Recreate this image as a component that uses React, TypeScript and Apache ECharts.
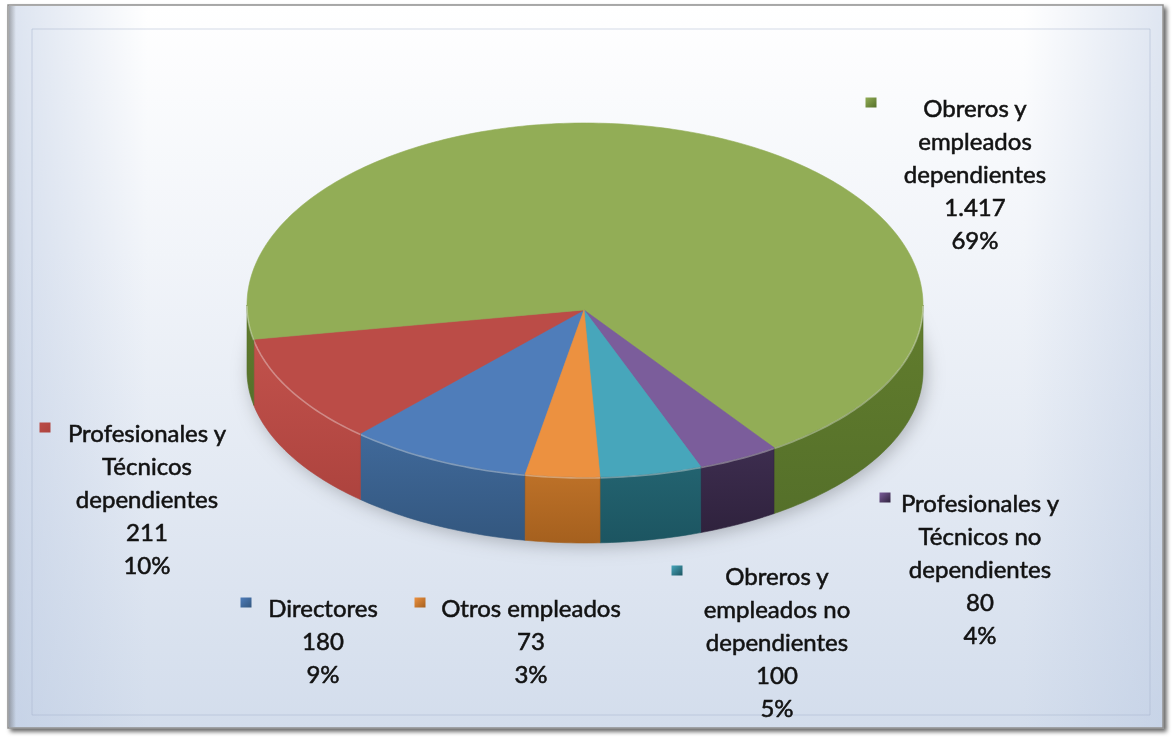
import React, { useEffect, useRef } from "react";
import * as echarts from "echarts";

// ---- data (clockwise order, as in the source workbook) ----
const names = [
  "Directores",
  "Profesionales y Técnicos dependientes",
  "Obreros y empleados dependientes",
  "Profesionales y Técnicos no dependientes",
  "Obreros y empleados no dependientes",
  "Otros empleados",
];
const nameLines = [
  ["Directores"],
  ["Profesionales y", "Técnicos", "dependientes"],
  ["Obreros y", "empleados", "dependientes"],
  ["Profesionales y", "Técnicos no", "dependientes"],
  ["Obreros y", "empleados no", "dependientes"],
  ["Otros empleados"],
];
const values = [180, 211, 1417, 80, 100, 73];
const percentLabels = ["9%", "10%", "69%", "4%", "5%", "3%"];

// ---- styling ----
const topColors = ["#4f7dba", "#bb4c47", "#92ad56", "#7b5d9b", "#47a6bb", "#ec9140"];
const sideTop = ["#40699a", "#c2524c", "#627d2d", "#3d2d4f", "#236370", "#bd7128"];
const sideBottom = ["#33577f", "#ad433e", "#55702a", "#2f223d", "#1c5561", "#a5601e"];

// label layout: [center x, first line center y, legend key center x]
const labelLayout = [
  [323, 607, 246],
  [147, 432, 45],
  [975, 107, 871],
  [980, 502, 885],
  [777, 575, 677],
  [531, 607, 420],
];

const CX = 585;
const CY = 305;
const RX = 338;
const RY_T = 182;
const RY_B = 172;
const HUB: [number, number] = [584, 310];
const DEPTH = 66;
const START = 190.2;
const FONT = "Lato, 'Open Sans', sans-serif";

function fmt(v: number) {
  return String(v).replace(/\B(?=(\d{3})+(?!\d))/g, ".");
}

function pt(deg: number, dy = 0): number[] {
  const r = (deg * Math.PI) / 180;
  const s = Math.sin(r);
  const c = Math.cos(r);
  return [CX + RX * s, CY - (c > 0 ? RY_T : RY_B) * c + dy];
}
function arc(a: number, b: number, dy = 0): number[][] {
  const n = Math.max(2, Math.ceil(Math.abs(b - a)));
  const out: number[][] = [];
  for (let i = 0; i <= n; i++) out.push(pt(a + ((b - a) * i) / n, dy));
  return out;
}

export default function App() {
  const ref = useRef<HTMLDivElement>(null);
  useEffect(() => {
    if (!ref.current) return;
    const chart = echarts.init(ref.current, undefined, { renderer: "svg" });
    const total = values.reduce((s, v) => s + v, 0);

    const renderItem = (params: any, api: any) => {
      const i = params.dataIndex;
      let a = START;
      for (let j = 0; j < i; j++) a += (values[j] / total) * 360;
      const b = a + (api.value(0) / total) * 360;
      const children: any[] = [];
      if (i === 0) {
        children.push({
          type: "polygon",
          shape: { points: arc(0, 360, DEPTH - 4) },
          style: {
            fill: "rgba(90,100,120,0.5)",
            shadowBlur: 18,
            shadowColor: "rgba(0,0,0,0.5)",
            shadowOffsetY: 7,
            shadowOffsetX: 3,
          },
        });
      }
      const ranges: number[][] = [];
      for (const k of [-360, 0, 360]) {
        const s = Math.max(a, 90 + k);
        const e = Math.min(b, 270 + k);
        if (e > s) ranges.push([s, e]);
      }
      for (const [s, e] of ranges) {
        const pts = arc(s, e).concat(arc(e, s, DEPTH));
        children.push({
          type: "polygon",
          shape: { points: pts },
          style: {
            fill: {
              type: "linear",
              x: 0,
              y: 0,
              x2: 0,
              y2: 1,
              colorStops: [
                { offset: 0, color: sideTop[i] },
                { offset: 1, color: sideBottom[i] },
              ],
            },
            stroke: sideBottom[i],
            lineWidth: 0.6,
          },
        });
      }
      children.push({
        type: "polygon",
        shape: { points: [HUB as number[]].concat(arc(a, b)) },
        style: { fill: topColors[i], stroke: topColors[i], lineWidth: 0.6 },
      });
      for (const [s, e] of ranges) {
        children.push({
          type: "polyline",
          shape: { points: arc(s, e, 1) },
          style: { stroke: "rgba(255,255,255,0.35)", lineWidth: 1.6, fill: null },
        });
      }
      // label
      const [lx, ly, kx] = labelLayout[i];
      const lines = nameLines[i].concat([fmt(values[i]), percentLabels[i]]);
      children.push({
        type: "text",
        style: {
          text: lines.join("\n"),
          x: lx,
          y: ly - 16.5,
          align: "center",
          verticalAlign: "top",
          lineHeight: 33,
          fontSize: 24,
          fontFamily: FONT,
          fill: "#121212",
          stroke: "#121212",
          lineWidth: 0.55,
        },
      });
      children.push({
        type: "rect",
        shape: { x: kx - 5.5, y: ly - 9.5, width: 11, height: 10 },
        style: {
          fill: {
            type: "linear",
            x: 0,
            y: 0,
            x2: 1,
            y2: 1,
            colorStops: [
              { offset: 0, color: topColors[i] },
              { offset: 1, color: sideBottom[i] },
            ],
          },
        },
      });
      return { type: "group", children };
    };

    chart.setOption({
      animation: false,
      graphic: [
        {
          type: "rect",
          z: 0,
          shape: { x: 8, y: 5, width: 1155, height: 723 },
          style: {
            fill: {
              type: "linear",
              x: 0,
              y: 0,
              x2: 0,
              y2: 1,
              colorStops: [
                { offset: 0, color: "#ffffff" },
                { offset: 0.35, color: "#f1f4f9" },
                { offset: 1, color: "#d3ddec" },
              ],
            },
            stroke: "#8f8f8f",
            lineWidth: 1.5,
            shadowColor: "rgba(0,0,0,0.6)",
            shadowBlur: 4,
            shadowOffsetX: 3,
            shadowOffsetY: 3,
          },
        },
        {
          type: "rect",
          z: 1,
          shape: { x: 9, y: 6, width: 1153, height: 721 },
          style: {
            fill: {
              type: "linear",
              x: 0,
              y: 0,
              x2: 1,
              y2: 0,
              colorStops: [
                { offset: 0, color: "rgba(185,200,225,0.5)" },
                { offset: 0.12, color: "rgba(185,200,225,0)" },
                { offset: 0.88, color: "rgba(185,200,225,0)" },
                { offset: 1, color: "rgba(185,200,225,0.45)" },
              ],
            },
          },
        },
        {
          type: "rect",
          z: 1,
          shape: { x: 9, y: 6, width: 7, height: 721 },
          style: {
            fill: {
              type: "linear",
              x: 0,
              y: 0,
              x2: 1,
              y2: 0,
              colorStops: [
                { offset: 0, color: "rgba(90,90,90,0.45)" },
                { offset: 1, color: "rgba(90,90,90,0)" },
              ],
            },
          },
        },
        {
          type: "rect",
          z: 1,
          shape: { x: 32, y: 29, width: 1118, height: 686 },
          style: { fill: null, stroke: "rgba(160,175,200,0.45)", lineWidth: 1 },
        },
      ],
      series: [
        {
          type: "custom",
          coordinateSystem: "none",
          z: 5,
          data: values.map((v, k) => ({ name: names[k], value: [v] })),
          renderItem,
        },
      ],
    });
    return () => chart.dispose();
  }, []);
  return (
    <div
      ref={ref}
      style={{ position: "fixed", left: 0, top: 0, width: 1173, height: 738 }}
    />
  );
}
